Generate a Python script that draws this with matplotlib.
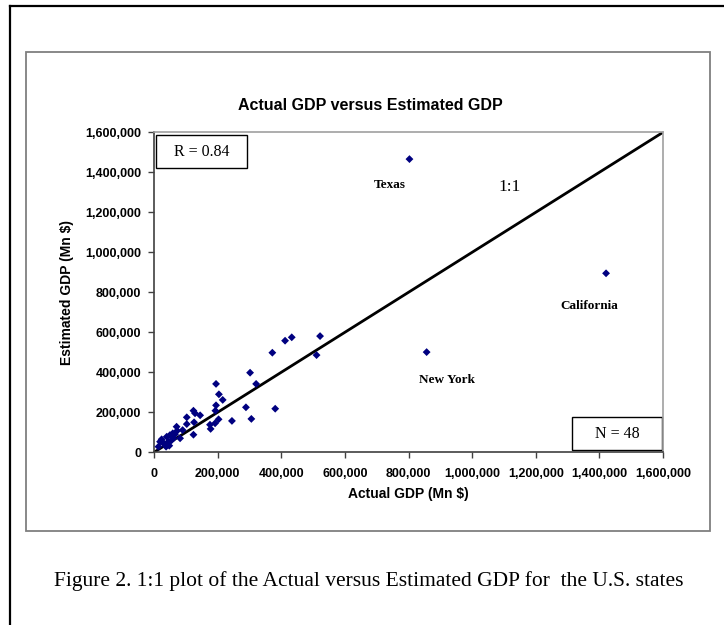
import numpy as np
import matplotlib
matplotlib.use('Agg')
import matplotlib.pyplot as plt
from matplotlib.patches import Rectangle
from matplotlib.lines import Line2D
from matplotlib.ticker import FuncFormatter

# Actual GDP (Mn $) per state
actual_gdp = [522000, 511000, 433000, 412000, 372000, 381000, 302000, 321000,
              289000, 306000, 245000, 195000, 204000, 216000, 195000, 193000,
              203000, 192000, 176000, 178000, 124000, 129000, 145000, 126000,
              124000, 103000, 103000, 90000, 71000, 73000, 82000, 59000,
              50000, 40000, 24000, 19000, 29000, 45000, 38000, 48000,
              14000, 61000, 55000, 33000, 66000,
              803000, 1421000, 857000]
# Estimated GDP (Mn $)
estimated_gdp = [581000, 486000, 575000, 558000, 498000, 218000, 398000, 342000,
                 225000, 167000, 157000, 342000, 290000, 262000, 235000, 208000,
                 165000, 145000, 138000, 117000, 208000, 195000, 185000, 150000,
                 88000, 175000, 141000, 111000, 128000, 108000, 70000, 95000,
                 86000, 78000, 65000, 53000, 48000, 53000, 28000, 33000,
                 28000, 70000, 60000, 40000, 90000,
                 1466000, 895000, 501000]

state_labels = ['Texas', 'California', 'New York']
label_x = [742000, 1367000, 921000]
label_y = [1336000, 733000, 361000]

axis_max = 1600000
ticks = np.arange(0, axis_max + 1, 200000)

fig = plt.figure(figsize=(7.24, 6.25), dpi=100)

# page border (top and left)
fig.add_artist(Line2D([10/724, 1.0], [619/625, 619/625], color='black', lw=1.6,
                      transform=fig.transFigure))
fig.add_artist(Line2D([10/724, 10/724], [0.0, 619/625], color='black', lw=1.6,
                      transform=fig.transFigure))

# chart area box
fig.add_artist(Rectangle((26/724, 94/625), 684/724, 479/625, fill=False,
                         edgecolor='#7f7f7f', lw=1.3, transform=fig.transFigure))

ax = fig.add_axes([154/724, 172.7/625, 509/724, 320/625])

ax.plot([0, axis_max], [0, axis_max], color='black', lw=2)
ax.scatter(actual_gdp, estimated_gdp, marker='D', s=16, color='#000080',
           edgecolors='none', zorder=3)

ax.set_xlim(0, axis_max)
ax.set_ylim(0, axis_max)
ax.set_xticks(ticks)
ax.set_yticks(ticks)
fmt = FuncFormatter(lambda v, p: '{:,.0f}'.format(v))
ax.xaxis.set_major_formatter(fmt)
ax.yaxis.set_major_formatter(fmt)
ax.tick_params(direction='out', length=4, width=1, color='#404040')
ax.tick_params(axis='x', pad=7)
ax.tick_params(axis='y', pad=5)
for lab in ax.get_xticklabels() + ax.get_yticklabels():
    lab.set_fontfamily('Liberation Sans')
    lab.set_fontweight('bold')
    lab.set_fontsize(9)

for side in ['left', 'bottom']:
    ax.spines[side].set_color('#404040')
    ax.spines[side].set_linewidth(1.2)
for side in ['top', 'right']:
    ax.spines[side].set_color('#a0a0a0')
    ax.spines[side].set_linewidth(1.2)

ax.set_xlabel('Actual GDP (Mn $)', fontfamily='Liberation Sans', fontweight='bold',
              fontsize=10, labelpad=5)
ax.set_ylabel('Estimated GDP (Mn $)', fontfamily='Liberation Sans', fontweight='bold',
              fontsize=10, labelpad=8)

for name, lx, ly in zip(state_labels, label_x, label_y):
    ax.text(lx, ly, name, ha='center', va='center', fontfamily='Liberation Serif',
            fontweight='bold', fontsize=9.5)
ax.text(1119000, 1328000, '1:1', ha='center', va='center',
        fontfamily='Liberation Serif', fontsize=12.5)

# R and N boxes
ax.add_patch(Rectangle((0.003, 0.888), 0.18, 0.104, fill=False, edgecolor='black',
                       lw=1, transform=ax.transAxes, clip_on=False))
ax.text(0.093, 0.94, 'R = 0.84', transform=ax.transAxes, ha='center', va='center',
        fontfamily='Liberation Serif', fontsize=11.5)
ax.add_patch(Rectangle((0.821, 0.007), 0.177, 0.102, fill=False, edgecolor='black',
                       lw=1, transform=ax.transAxes, clip_on=False))
ax.text(0.91, 0.058, 'N = 48', transform=ax.transAxes, ha='center', va='center',
        fontfamily='Liberation Serif', fontsize=11.5)

fig.text(370/724, 519/625, 'Actual GDP versus Estimated GDP', ha='center', va='center',
         fontfamily='Liberation Sans', fontweight='bold', fontsize=11.5)

fig.text(369/724, 44/625,
         'Figure 2. 1:1 plot of the Actual versus Estimated GDP for  the U.S. states',
         ha='center', va='center', fontfamily='Liberation Serif', fontsize=15.5)

fig.savefig('out.png', dpi=100)
